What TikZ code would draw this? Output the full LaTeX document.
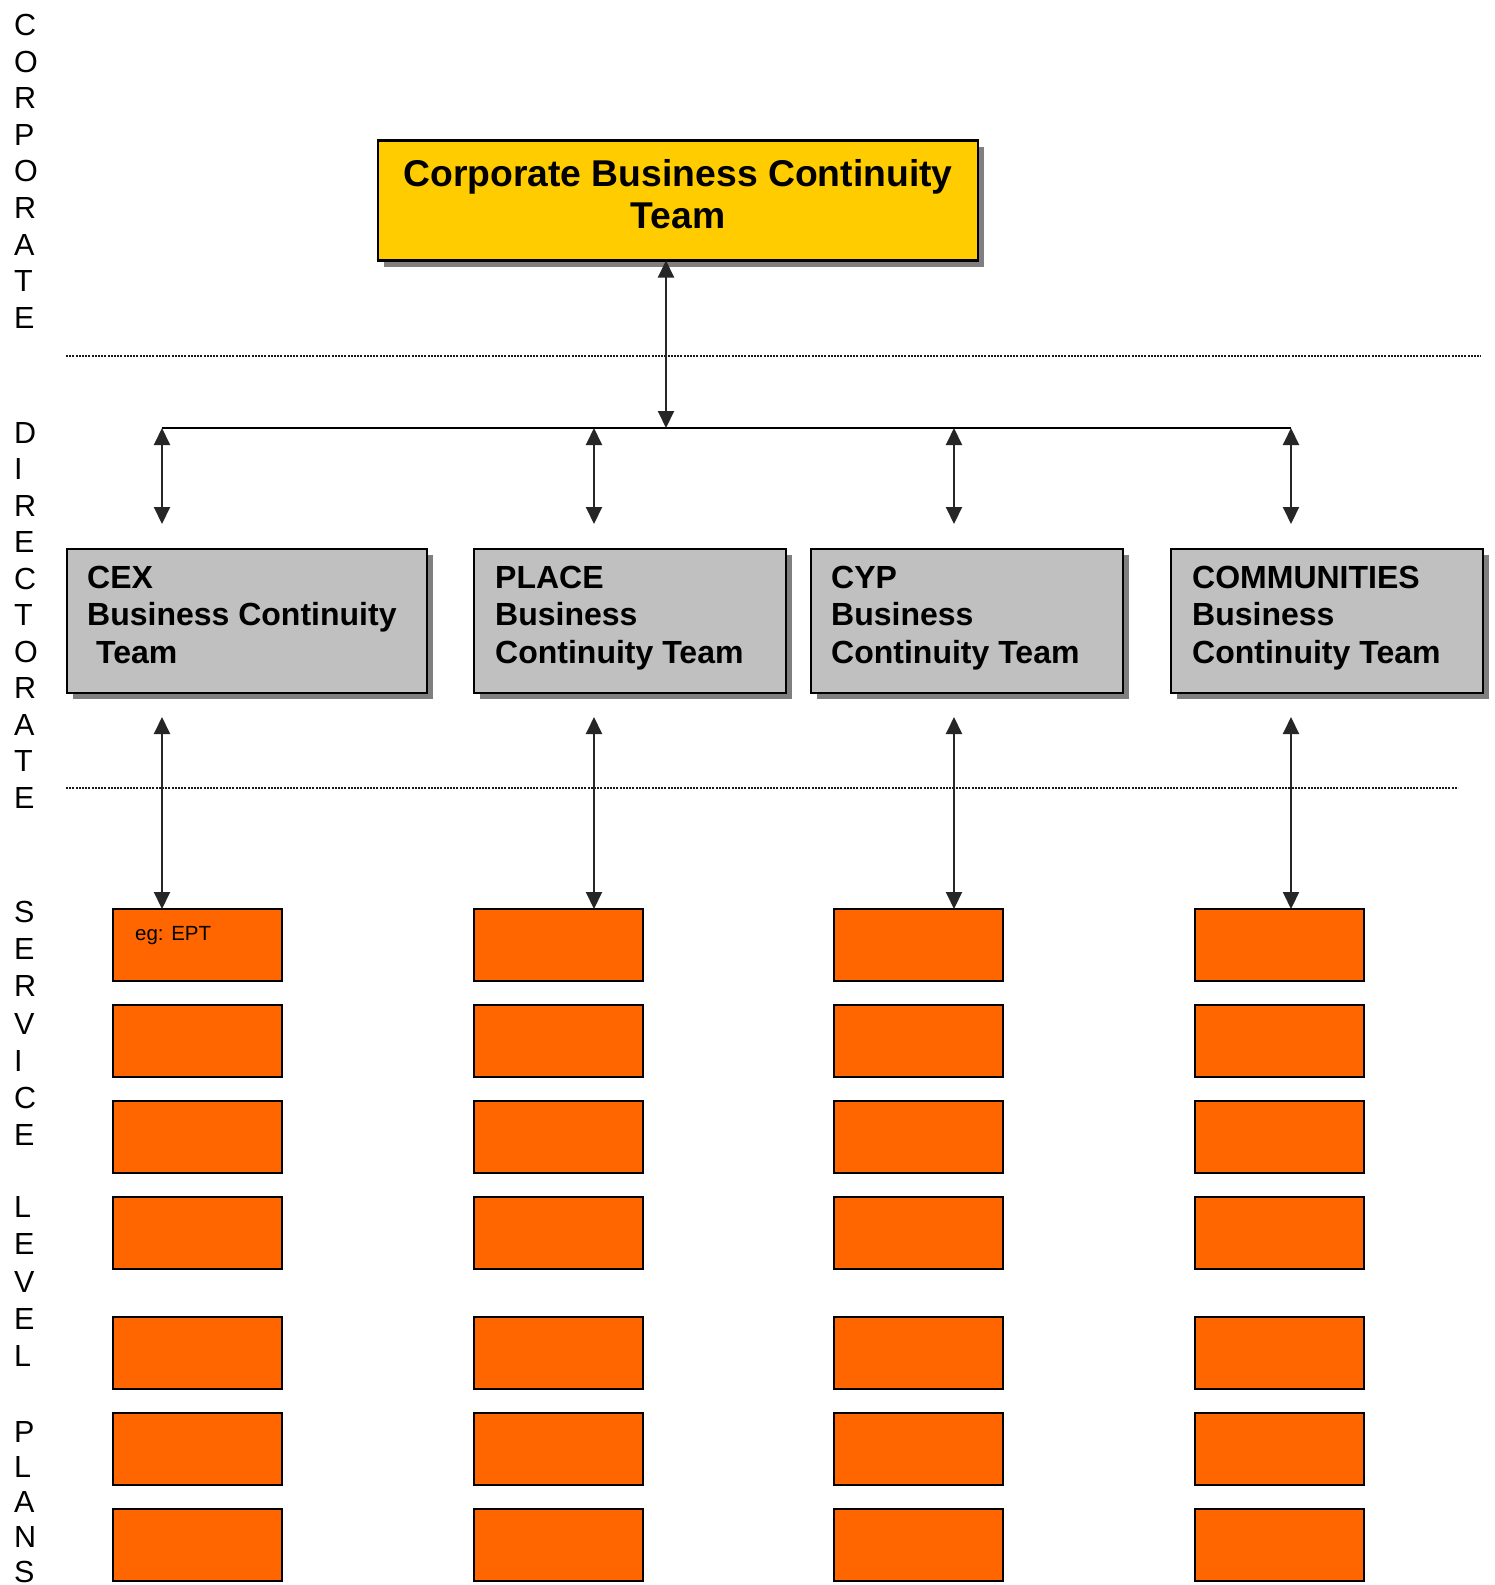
\documentclass[tikz,border=0pt]{standalone}
\usepackage{fontspec}
\setmainfont{Liberation Sans}
\usetikzlibrary{arrows.meta,shadows}
\definecolor{cyel}{HTML}{FFCC00}
\definecolor{cgray}{HTML}{C0C0C0}
\definecolor{corg}{HTML}{FF6600}
\definecolor{cshad}{HTML}{7F7F7F}
\begin{document}
\begin{tikzpicture}[x=1pt,y=-1pt,
  boxline/.style={draw=black, line width=2.8pt, inner sep=0pt, outer sep=0pt, anchor=north west},
  shad/.style={drop shadow={shadow xshift=6pt, shadow yshift=-6pt, fill=cshad, opacity=1}},
  topbox/.style={boxline, shad, fill=cyel, minimum width=600pt, minimum height=120pt},
  dirbox/.style={boxline, shad, fill=cgray, minimum height=144pt},
  planbox/.style={boxline, fill=corg, minimum width=169pt, minimum height=72pt},
  dirtext/.style={anchor=north west, inner sep=0pt, align=left, font=\bfseries\fontsize{32}{37.4}\selectfont},
  vletter/.style={anchor=base west, inner sep=0pt, font=\fontsize{30.5}{36}\selectfont},
  conn/.style={line width=2pt, draw=black!85, {Triangle[length=17pt,width=16pt]}-{Triangle[length=17pt,width=16pt]}},
  sepline/.style={line width=2pt, dash pattern=on 2pt off 1.2pt, draw=black!90},
]
\useasboundingbox (0,0) rectangle (1495,1585);
\fill[white] (0,0) rectangle (1495,1585);

% side letters
\foreach \ch/\yy [count=\n] in {C/35,O/72,R/108,P/145,O/181,R/218,A/255,T/291,E/328,
  D/443,I/479.5,R/516,E/552.5,C/589,T/625.5,O/662,R/698.5,A/735,T/771.5,E/808,
  S/922,E/959,R/996,V/1034,I/1071,C/1108,E/1145,
  L/1217,E/1254,V/1292,E/1329,L/1366,
  P/1442,L/1477,A/1512,N/1547,S/1582}
  \node[vletter] (lt\n) at (14,\yy) {\ch};

% separators
\coordinate (d1a) at (66,356); \coordinate (d1b) at (1481,356);
\coordinate (d2a) at (66,788); \coordinate (d2b) at (1458,788);
\draw[sepline] (d1a) -- (d1b);
\draw[sepline] (d2a) -- (d2b);

% top box
\node[topbox] (ctop) at (378,140.5) {};
\node[anchor=north, inner sep=0pt, align=center, font=\bfseries\fontsize{37.3}{42.5}\selectfont] (ctopt) at (678,159) {Corporate Business Continuity\\Team};

% directorate boxes
\node[dirbox, minimum width=360pt] (cex) at (67,549) {};
\node[dirbox, minimum width=312pt] (place) at (474,549) {};
\node[dirbox, minimum width=312pt] (cyp) at (811,549) {};
\node[dirbox, minimum width=312pt] (comm) at (1171,549) {};
\node[dirtext] (cext) at (87,566) {CEX\\Business Continuity\\\mbox{\ Team}};
\node[dirtext] (placet) at (495,566) {PLACE\\Business\\Continuity Team};
\node[dirtext] (cypt) at (831,566) {CYP\\Business\\Continuity Team};
\node[dirtext] (commt) at (1192,566) {COMMUNITIES\\Business\\Continuity Team};

% plan boxes
\foreach \c/\xx in {1/113,2/474,3/834,4/1195}
  \foreach \r/\yy in {1/909,2/1005,3/1101,4/1197,5/1317,6/1413,7/1509}
    \node[planbox] (p\c\r) at (\xx,\yy) {};
\node[anchor=base west, inner sep=0pt, font=\fontsize{20.5}{24}\selectfont] (ept) at (135,940) {eg: EPT};

% connectors
\coordinate (bus) at (666,428);
\coordinate (busL) at (162,428);
\coordinate (busR) at (1291,428);
\draw[line width=2.5pt] (busL) -- (busR);
\draw[conn] (ctop.south -| bus) -- (bus);
\foreach \k/\xx in {1/162,2/594,3/954,4/1291} {
  \coordinate (a\k) at (\xx,428);
  \coordinate (b\k) at (\xx,524);
  \coordinate (c\k) at (\xx,717);
  \draw[conn] (a\k) -- (b\k);
  \draw[conn] (c\k) -- (p\k1.north -| c\k);
}
\end{tikzpicture}
\end{document}
